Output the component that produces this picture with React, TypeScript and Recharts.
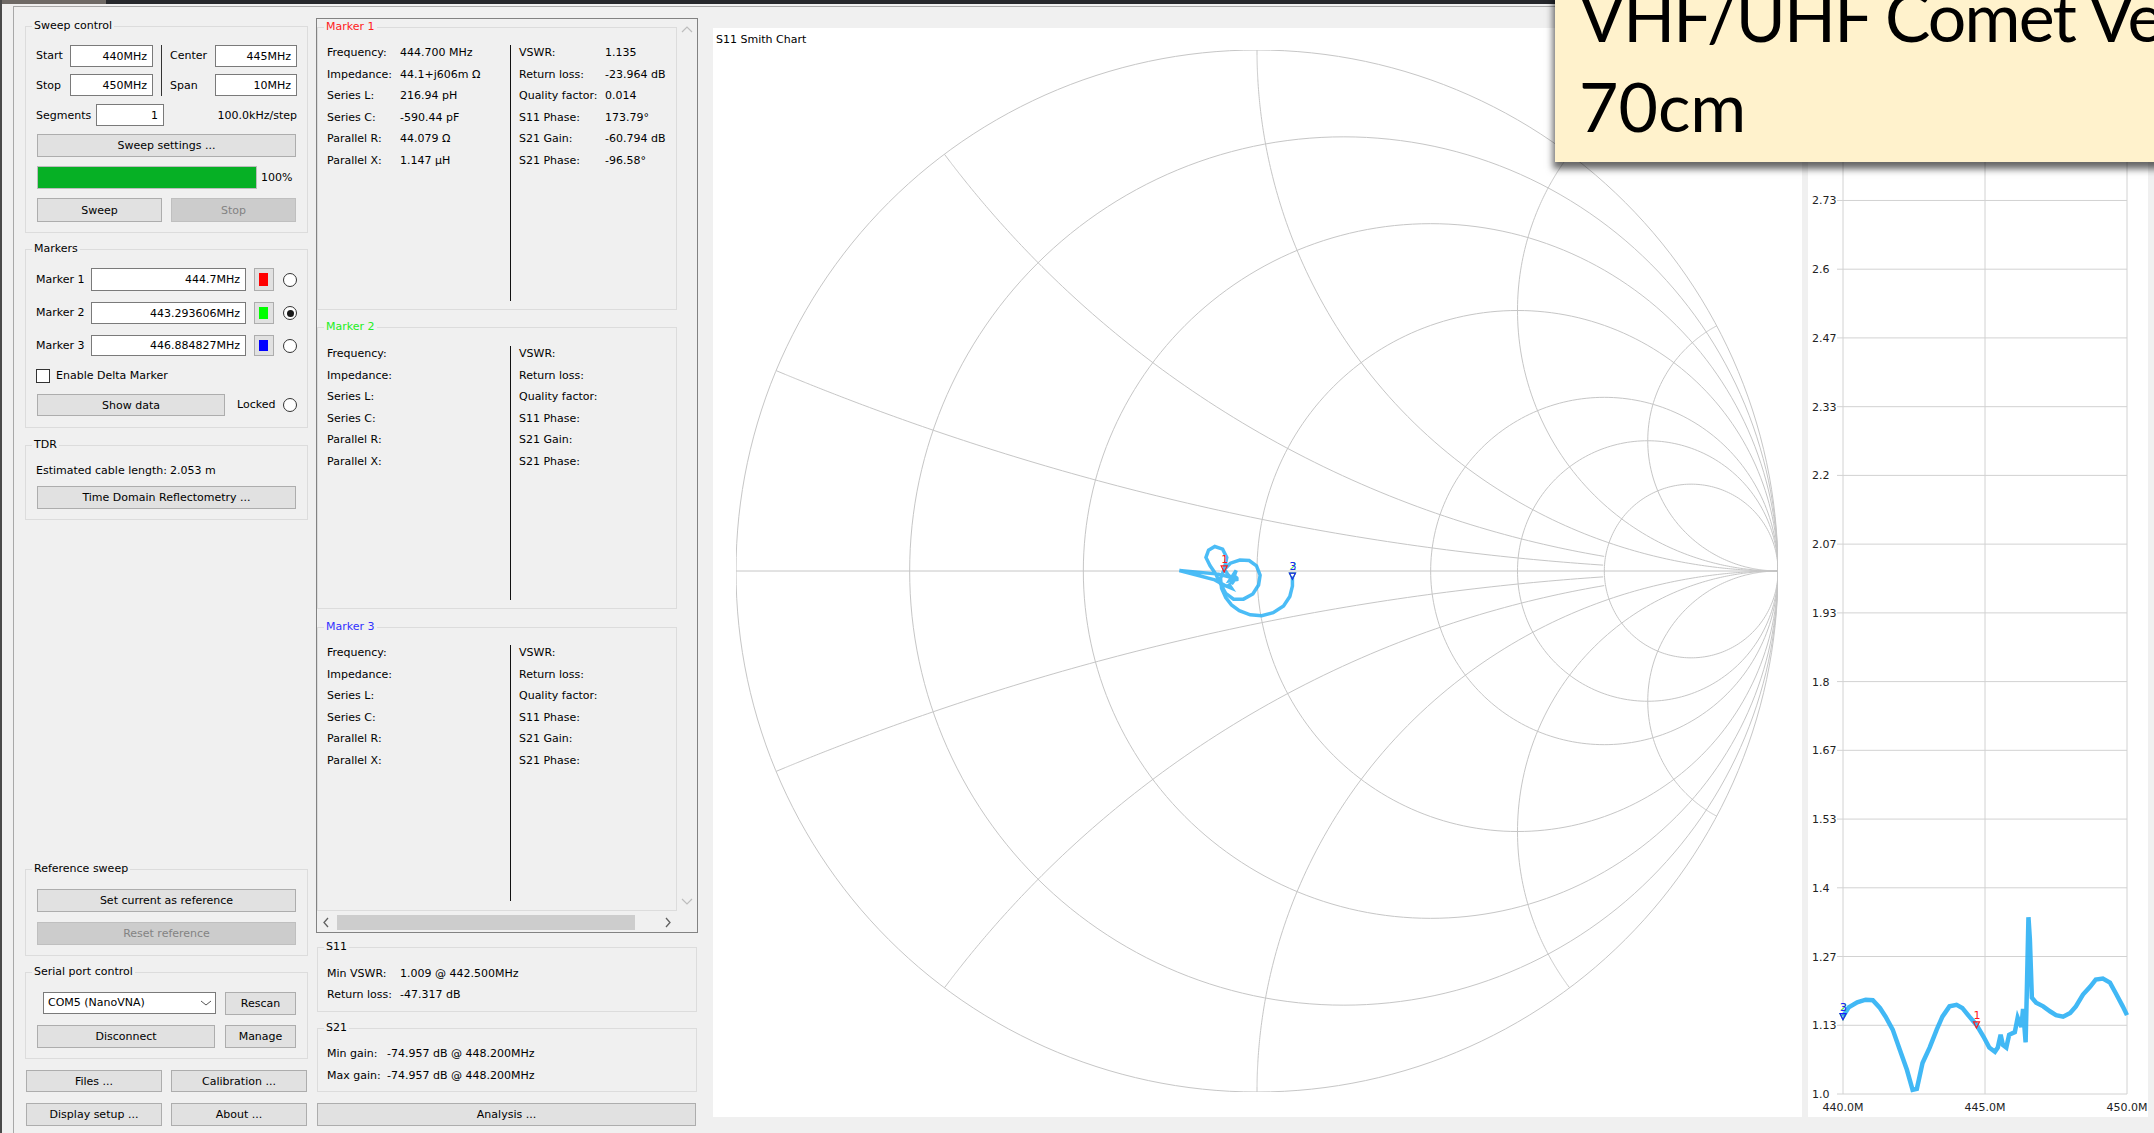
import React from "react";
import {
  ScatterChart,
  Scatter,
  XAxis,
  YAxis,
  LineChart,
  Line,
  CartesianGrid,
  ReferenceDot,
} from "recharts";

const UI_FONT = '"DejaVu Sans", Tahoma, sans-serif';
const GRID = "#c6c6c6";
const TRACE = "#2cb0f4";

// VSWR sweep, 440-450 MHz
const vswrFreqs = [
  440.0, 440.2, 440.5, 440.8, 441.05, 441.3, 441.5, 441.75, 442.0, 442.25,
  442.45, 442.6, 442.8, 443.05, 443.3, 443.5, 443.75, 444.0, 444.2, 444.45,
  444.7, 444.95, 445.15, 445.35, 445.45, 445.55, 445.63, 445.75, 445.85, 446.05,
  446.15, 446.28, 446.34, 446.43, 446.48, 446.53, 446.58, 446.65, 446.8, 447.05,
  447.3, 447.5, 447.75, 448.0, 448.2, 448.45, 448.7, 448.9, 449.15, 449.4,
  449.6, 449.85, 450.0,
];
const vswrValues = [
  1.15, 1.168, 1.178, 1.183, 1.182, 1.167, 1.15, 1.125, 1.086, 1.047,
  1.008, 1.01, 1.06, 1.09, 1.125, 1.15, 1.17, 1.173, 1.167, 1.15,
  1.134, 1.111, 1.09, 1.082, 1.09, 1.115, 1.095, 1.09, 1.115, 1.12,
  1.148, 1.13, 1.165, 1.1, 1.216, 1.343, 1.3, 1.187, 1.177, 1.17,
  1.16, 1.153, 1.15, 1.157, 1.17, 1.193, 1.208, 1.222, 1.224, 1.216,
  1.196, 1.17, 1.153,
];
const vswrTicks = [
  1, 1.1333, 1.2667, 1.4, 1.5333, 1.6667, 1.8, 1.9333, 2.0667, 2.2, 2.3333,
  2.4667, 2.6, 2.7333, 2.8667, 3,
];
const vswrTickLabels = [
  "1.0", "1.13", "1.27", "1.4", "1.53", "1.67", "1.8", "1.93", "2.07", "2.2",
  "2.33", "2.47", "2.6", "2.73", "2.87", "3.0",
];
const freqTicks = [440, 445, 450];
const freqTickLabels = ["440.0M", "445.0M", "450.0M"];

// S11 trace (reflection coefficient)
const s11Re = [
  0.068, 0.068, 0.063, 0.051, 0.031, 0.009, -0.013, -0.034, -0.049, -0.06,
  -0.068, -0.07, -0.063, -0.051, -0.033, -0.015, -0.001, 0.006, 0.003, -0.008,
  -0.026, -0.045, -0.06, -0.07, -0.079, -0.09, -0.098, -0.093, -0.081, -0.066,
  -0.058, -0.061, -0.063, -0.055, -0.045, -0.038, -0.049, -0.04, -0.053, -0.036,
  -0.074, -0.149, -0.081, -0.063, -0.049, -0.055,
];
const s11Im = [
  -0.01, -0.029, -0.049, -0.067, -0.08, -0.086, -0.084, -0.076, -0.065, -0.051,
  -0.033, -0.014, 0.003, 0.015, 0.021, 0.02, 0.01, -0.008, -0.027, -0.044,
  -0.054, -0.054, -0.043, -0.025, -0.006, 0.01, 0.026, 0.04, 0.047, 0.042,
  0.026, 0.012, 0.004, -0.008, -0.017, -0.01, -0.025, 0.001, -0.019, -0.016,
  -0.006, 0.001, -0.017, -0.027, -0.033, -0.024,
];

// markers: label, colour, frequency / vswr, gamma
const markerLabels = ["2", "3", "1"];
const markerColors = ["#22dd22", "#1f1fff", "#ff1a1a"];
const markerFreqs = [440, 440, 444.7];
const markerVswr = [1.15, 1.15, 1.134];
const markerRe = [0.068, 0.068, -0.063];
const markerIm = [-0.01, -0.01, 0.004];

// Smith chart grid
const resistanceCircles = [0, 0.2, 0.5, 1, 2, 3, 5];
const reactanceArcs = [0.2, 0.5, 1, 2, 4];
const shortArcs = [0.2, 0.5];

function circlePoints(cx: number, rad: number) {
  const pts = [];
  for (let k = 0; k <= 240; k++) {
    const a = (k / 240) * Math.PI * 2;
    pts.push({ x: cx + rad * Math.cos(a), y: rad * Math.sin(a) });
  }
  return pts;
}

function reactancePoints(xv: number, maxRe: number) {
  const pts = [];
  for (let k = 0; k <= 300; k++) {
    const r = k === 0 ? 0 : Math.pow(10, -2 + (k / 300) * 5.5);
    const den = (r + 1) * (r + 1) + xv * xv;
    const re = (r * r - 1 + xv * xv) / den;
    if (re <= maxRe) pts.push({ x: re, y: (2 * xv) / den });
  }
  return pts;
}

const smithGrid = [
  ...resistanceCircles.map((r) => ({
    key: `r${r}`,
    pts: circlePoints(r / (r + 1), 1 / (r + 1)),
  })),
  ...reactanceArcs.flatMap((xv) =>
    [xv, -xv].map((s) => ({
      key: `x${s}`,
      pts: reactancePoints(s, shortArcs.includes(xv) ? 2 / 3 : 1),
    }))
  ),
  { key: "axis", pts: [{ x: -1, y: 0 }, { x: 1, y: 0 }] },
];

const s11Data = s11Re.map((re, i) => ({ x: re, y: s11Im[i] }));
const vswrData = vswrFreqs.map((f, i) => ({ freq: f, vswr: vswrValues[i] }));

const noDot = () => <g />;

function MarkerGlyph({ cx, cy, color, label }: any) {
  return (
    <g>
      <path
        d={`M${cx},${cy + 3} L${cx - 3},${cy - 3} L${cx + 3},${cy - 3} Z`}
        fill="none"
        stroke={color}
        strokeWidth={1.2}
      />
      <text x={cx - 3} y={cy - 6} fontSize={11} fontFamily={UI_FONT} fill={color}>
        {label}
      </text>
    </g>
  );
}

function VswrYTick(props: any) {
  const { y, payload } = props;
  const i = vswrTicks.findIndex((t) => Math.abs(t - payload.value) < 1e-6);
  return (
    <text x={4} y={y} dy={4} fontSize={11} fontFamily={UI_FONT} fill="#222">
      {vswrTickLabels[i]}
    </text>
  );
}

function FreqTick(props: any) {
  const { x, payload } = props;
  const i = freqTicks.indexOf(payload.value);
  return (
    <text x={x} y={1083} textAnchor="middle" fontSize={11} fontFamily={UI_FONT} fill="#222">
      {freqTickLabels[i]}
    </text>
  );
}

// ---- small widget helpers
const Txt = ({ x, y, children, color = "#000", align = "left", w = 400 }: any) => {
  const style: React.CSSProperties = {
    position: "absolute",
    top: y - 8,
    height: 16,
    lineHeight: "16px",
    fontSize: 11,
    color,
    fontFamily: UI_FONT,
    whiteSpace: "nowrap",
  };
  if (align === "right") {
    style.left = x - w;
    style.width = w;
    style.textAlign = "right";
  } else style.left = x;
  return <div style={style}>{children}</div>;
};

const Rect = ({ x1, y1, x2, y2, bg = "transparent", border, style }: any) => (
  <div
    style={{
      position: "absolute",
      left: x1,
      top: y1,
      width: x2 - x1,
      height: y2 - y1,
      background: bg,
      border,
      boxSizing: "border-box",
      ...style,
    }}
  />
);

const Btn = ({ x1, y1, x2, y2, label, disabled = false }: any) => (
  <div
    style={{
      position: "absolute",
      left: x1,
      top: y1,
      width: x2 - x1,
      height: y2 - y1,
      boxSizing: "border-box",
      background: disabled ? "#cccccc" : "#e1e1e1",
      border: `1px solid ${disabled ? "#bfbfbf" : "#adadad"}`,
      color: disabled ? "#838383" : "#000",
      fontSize: 11,
      fontFamily: UI_FONT,
      display: "flex",
      alignItems: "center",
      justifyContent: "center",
      whiteSpace: "nowrap",
    }}
  >
    {label}
  </div>
);

const Field = ({ x1, y1, x2, y2, value }: any) => (
  <div
    style={{
      position: "absolute",
      left: x1,
      top: y1,
      width: x2 - x1,
      height: y2 - y1,
      boxSizing: "border-box",
      background: "#fff",
      border: "1px solid #7a7a7a",
      fontSize: 11,
      fontFamily: UI_FONT,
      display: "flex",
      alignItems: "center",
      justifyContent: "flex-end",
      paddingRight: 5,
      whiteSpace: "nowrap",
    }}
  >
    {value}
  </div>
);

const Group = ({ x1, y1, x2, y2, title, color = "#000" }: any) => (
  <>
    <Rect x1={x1} y1={y1} x2={x2} y2={y2} border="1px solid #dcdcdc" />
    <div
      style={{
        position: "absolute",
        left: x1 + 7,
        top: y1 - 8,
        height: 16,
        lineHeight: "16px",
        padding: "0 2px",
        background: "#f0f0f0",
        fontSize: 11,
        fontFamily: UI_FONT,
        color,
        whiteSpace: "nowrap",
      }}
    >
      {title}
    </div>
  </>
);

const Radio = ({ x, y, on = false }: any) => (
  <div
    style={{
      position: "absolute",
      left: x - 7,
      top: y - 7,
      width: 14,
      height: 14,
      borderRadius: "50%",
      border: "1px solid #333",
      background: "#fff",
      boxSizing: "border-box",
    }}
  >
    {on && (
      <div
        style={{
          position: "absolute",
          left: 2.5,
          top: 2.5,
          width: 7,
          height: 7,
          borderRadius: "50%",
          background: "#1a1a1a",
        }}
      />
    )}
  </div>
);

const leftLabels = ["Frequency:", "Impedance:", "Series L:", "Series C:", "Parallel R:", "Parallel X:"];
const rightLabels = ["VSWR:", "Return loss:", "Quality factor:", "S11 Phase:", "S21 Gain:", "S21 Phase:"];
const m1Left = ["444.700 MHz", "44.1+j606m Ω", "216.94 pH", "-590.44 pF", "44.079 Ω", "1.147 µH"];
const m1Right = ["1.135", "-23.964 dB", "0.014", "173.79°", "-60.794 dB", "-96.58°"];

function MarkerInfo({ top, title, color, divTop, divBottom, rowTop, bottom, left, right }: any) {
  return (
    <>
      <Group x1={317} y1={top} x2={677} y2={bottom} title={title} color={color} />
      <Rect x1={510} y1={divTop} x2={511} y2={divBottom} bg="#111" />
      {leftLabels.map((l, i) => (
        <React.Fragment key={l}>
          <Txt x={327} y={rowTop + i * 21.6}>{l}</Txt>
          {left && <Txt x={400} y={rowTop + i * 21.6}>{left[i]}</Txt>}
        </React.Fragment>
      ))}
      {rightLabels.map((l, i) => (
        <React.Fragment key={l}>
          <Txt x={519} y={rowTop + i * 21.6}>{l}</Txt>
          {right && <Txt x={605} y={rowTop + i * 21.6}>{right[i]}</Txt>}
        </React.Fragment>
      ))}
    </>
  );
}

const markerRows = [
  { label: "Marker 1", value: "444.7MHz", y1: 268, y2: 291, on: false },
  { label: "Marker 2", value: "443.293606MHz", y1: 302, y2: 324, on: true },
  { label: "Marker 3", value: "446.884827MHz", y1: 335, y2: 356, on: false },
];
const swatchColors = ["#ff0000", "#00ff00", "#0000ff"];

function SmithChart() {
  return (
    <ScatterChart width={1089} height={1089} margin={{ top: 22, right: 24, bottom: 25, left: 23 }}>
      <XAxis type="number" dataKey="x" domain={[-1, 1]} allowDataOverflow hide />
      <YAxis type="number" dataKey="y" domain={[-1, 1]} allowDataOverflow hide />
      {smithGrid.map((g) => (
        <Scatter
          key={g.key}
          data={g.pts}
          fill={GRID}
          line={{ stroke: GRID, strokeWidth: 1 }}
          shape={noDot}
          isAnimationActive={false}
        />
      ))}
      <Scatter
        data={s11Data}
        fill={TRACE}
        line={{ stroke: TRACE, strokeWidth: 3.5, strokeOpacity: 0.85 }}
        shape={noDot}
        isAnimationActive={false}
      />
      {markerLabels.map((lab, i) => (
        <Scatter
          key={`m${i}`}
          data={[{ x: markerRe[i], y: markerIm[i] }]}
          fill={markerColors[i]}
          shape={(p: any) => <MarkerGlyph cx={p.cx} cy={p.cy} color={markerColors[i]} label={lab} />}
          isAnimationActive={false}
        />
      ))}
    </ScatterChart>
  );
}

function VswrChart() {
  return (
    <LineChart width={340} height={1089} data={vswrData} margin={{ top: 35, right: 21, bottom: 0, left: 0 }}>
      <CartesianGrid stroke="#d2d2d2" />
      <XAxis
        dataKey="freq"
        type="number"
        domain={[440, 450]}
        ticks={freqTicks}
        interval={0}
        height={23}
        tickLine={false}
        axisLine={false}
        tick={<FreqTick />}
      />
      <YAxis
        type="number"
        domain={[1, 3]}
        ticks={vswrTicks}
        interval={0}
        width={35}
        axisLine={false}
        tickLine={{ stroke: "#d2d2d2" }}
        tickSize={6}
        tick={<VswrYTick />}
      />
      <Line
        type="linear"
        dataKey="vswr"
        stroke={TRACE}
        strokeWidth={4.5}
        strokeOpacity={0.9}
        dot={false}
        isAnimationActive={false}
      />
      {markerLabels.map((lab, i) => (
        <ReferenceDot
          key={`vm${i}`}
          x={markerFreqs[i]}
          y={markerVswr[i]}
          ifOverflow="visible"
          shape={(p: any) => <MarkerGlyph cx={p.cx} cy={p.cy} color={markerColors[i]} label={lab} />}
        />
      ))}
    </LineChart>
  );
}

export default function App() {
  return (
    <div
      style={{
        position: "absolute",
        left: 0,
        top: 0,
        width: 2154,
        height: 1133,
        overflow: "hidden",
        background: "#f0f0f0",
        fontFamily: UI_FONT,
      }}
    >
      <style>{"body{margin:0}"}</style>
      {/* window chrome */}
      <Rect x1={0} y1={0} x2={2154} y2={4} bg="#26282c" />
      <Rect x1={0} y1={0} x2={106} y2={4} bg="#6f6a66" />
      <Rect x1={0} y1={0} x2={2} y2={1133} bg="#4a4a4a" />
      <Rect x1={13} y1={6} x2={2154} y2={7} bg="#a8a8a8" />
      <Rect x1={13} y1={6} x2={14} y2={1133} bg="#a8a8a8" />

      {/* sweep control */}
      <Group x1={25} y1={26} x2={308} y2={233} title="Sweep control" />
      <Txt x={36} y={56}>Start</Txt>
      <Field x1={70} y1={45} x2={153} y2={67} value="440MHz" />
      <Txt x={36} y={86}>Stop</Txt>
      <Field x1={70} y1={74} x2={153} y2={96} value="450MHz" />
      <Rect x1={161} y1={45} x2={162} y2={96} bg="#333" />
      <Txt x={170} y={56}>Center</Txt>
      <Field x1={215} y1={45} x2={297} y2={67} value="445MHz" />
      <Txt x={170} y={86}>Span</Txt>
      <Field x1={215} y1={74} x2={297} y2={96} value="10MHz" />
      <Txt x={36} y={116}>Segments</Txt>
      <Field x1={96} y1={104} x2={164} y2={126} value="1" />
      <Txt x={297} y={116} align="right">100.0kHz/step</Txt>
      <Btn x1={37} y1={134} x2={296} y2={157} label="Sweep settings ..." />
      <Rect x1={37} y1={166} x2={257} y2={189} bg="#06b025" border="1px solid #bcbcbc" />
      <Txt x={261} y={178}>100%</Txt>
      <Btn x1={37} y1={198} x2={162} y2={222} label="Sweep" />
      <Btn x1={171} y1={198} x2={296} y2={222} label="Stop" disabled />

      {/* markers */}
      <Group x1={25} y1={249} x2={308} y2={428} title="Markers" />
      {markerRows.map((m, i) => (
        <React.Fragment key={m.label}>
          <Txt x={36} y={(m.y1 + m.y2) / 2}>{m.label}</Txt>
          <Field x1={91} y1={m.y1} x2={246} y2={m.y2} value={m.value} />
          <Rect x1={254} y1={m.y1} x2={274} y2={m.y2} bg="#e1e1e1" border="1px solid #adadad" />
          <Rect x1={259} y1={m.y1 + 5} x2={268} y2={m.y2 - 5} bg={swatchColors[i]} />
          <Radio x={290} y={(m.y1 + m.y2) / 2} on={m.on} />
        </React.Fragment>
      ))}
      <Rect x1={36} y1={369} x2={50} y2={383} bg="#fff" border="1px solid #333" />
      <Txt x={56} y={376}>Enable Delta Marker</Txt>
      <Btn x1={37} y1={394} x2={225} y2={416} label="Show data" />
      <Txt x={237} y={405}>Locked</Txt>
      <Radio x={290} y={405} />

      {/* TDR */}
      <Group x1={25} y1={445} x2={308} y2={520} title="TDR" />
      <Txt x={36} y={471}>Estimated cable length:</Txt>
      <Txt x={170} y={471}>2.053 m</Txt>
      <Btn x1={37} y1={486} x2={296} y2={509} label="Time Domain Reflectometry ..." />

      {/* reference sweep */}
      <Group x1={25} y1={869} x2={308} y2={956} title="Reference sweep" />
      <Btn x1={37} y1={889} x2={296} y2={912} label="Set current as reference" />
      <Btn x1={37} y1={922} x2={296} y2={945} label="Reset reference" disabled />

      {/* serial port */}
      <Group x1={25} y1={972} x2={308} y2={1059} title="Serial port control" />
      <Rect x1={43} y1={992} x2={216} y2={1014} bg="#fff" border="1px solid #7a7a7a" />
      <Txt x={48} y={1003}>COM5 (NanoVNA)</Txt>
      <svg style={{ position: "absolute", left: 200, top: 998 }} width={12} height={10}>
        <polyline points="1,3 6,7 11,3" fill="none" stroke="#555" strokeWidth={1} />
      </svg>
      <Btn x1={225} y1={992} x2={296} y2={1015} label="Rescan" />
      <Btn x1={37} y1={1025} x2={215} y2={1048} label="Disconnect" />
      <Btn x1={225} y1={1025} x2={296} y2={1048} label="Manage" />
      <Btn x1={26} y1={1070} x2={162} y2={1092} label="Files ..." />
      <Btn x1={171} y1={1070} x2={307} y2={1092} label="Calibration ..." />
      <Btn x1={26} y1={1103} x2={162} y2={1126} label="Display setup ..." />
      <Btn x1={171} y1={1103} x2={307} y2={1126} label="About ..." />

      {/* marker data scroll area */}
      <Rect x1={316} y1={18} x2={698} y2={933} border="1px solid #828282" />
      <MarkerInfo top={27} bottom={310} title="Marker 1" color="#ff2020" divTop={45} divBottom={301} rowTop={53} left={m1Left} right={m1Right} />
      <MarkerInfo top={327} bottom={609} title="Marker 2" color="#22ee22" divTop={346} divBottom={600} rowTop={354} />
      <MarkerInfo top={627} bottom={911} title="Marker 3" color="#3030ff" divTop={645} divBottom={901} rowTop={653} />
      <Rect x1={317} y1={914} x2={677} y2={932} bg="#f0f0f0" />
      <Rect x1={337} y1={915} x2={635} y2={930} bg="#cdcdcd" />
      <svg style={{ position: "absolute", left: 322, top: 917 }} width={8} height={11}>
        <polyline points="6,1 2,5.5 6,10" fill="none" stroke="#606060" strokeWidth={1.3} />
      </svg>
      <svg style={{ position: "absolute", left: 664, top: 917 }} width={8} height={11}>
        <polyline points="2,1 6,5.5 2,10" fill="none" stroke="#606060" strokeWidth={1.3} />
      </svg>
      <svg style={{ position: "absolute", left: 681, top: 26 }} width={12} height={8}>
        <polyline points="1,6 6,1 11,6" fill="none" stroke="#bdbdbd" strokeWidth={1.2} />
      </svg>
      <svg style={{ position: "absolute", left: 681, top: 898 }} width={12} height={8}>
        <polyline points="1,1 6,6 11,1" fill="none" stroke="#bdbdbd" strokeWidth={1.2} />
      </svg>

      {/* S11 / S21 summaries */}
      <Group x1={317} y1={947} x2={697} y2={1012} title="S11" />
      <Txt x={327} y={974}>Min VSWR:</Txt>
      <Txt x={400} y={974}>1.009 @ 442.500MHz</Txt>
      <Txt x={327} y={995}>Return loss:</Txt>
      <Txt x={400} y={995}>-47.317 dB</Txt>
      <Group x1={317} y1={1028} x2={697} y2={1092} title="S21" />
      <Txt x={327} y={1054}>Min gain:</Txt>
      <Txt x={387} y={1054}>-74.957 dB @ 448.200MHz</Txt>
      <Txt x={327} y={1076}>Max gain:</Txt>
      <Txt x={387} y={1076}>-74.957 dB @ 448.200MHz</Txt>
      <Btn x1={317} y1={1103} x2={696} y2={1126} label="Analysis ..." />

      {/* Smith chart panel */}
      <div style={{ position: "absolute", left: 713, top: 28, width: 1089, height: 1089, background: "#fff" }}>
        <SmithChart />
        <div style={{ position: "absolute", left: 3, top: 5, fontSize: 11, fontFamily: UI_FONT, color: "#000", whiteSpace: "nowrap" }}>
          S11 Smith Chart
        </div>
      </div>

      {/* VSWR panel */}
      <div style={{ position: "absolute", left: 1808, top: 28, width: 340, height: 1089, background: "#fff" }}>
        <VswrChart />
      </div>

      {/* sticky note */}
      <div
        style={{
          position: "absolute",
          left: 1555,
          top: -10,
          width: 640,
          height: 172,
          background: "#fff2cc",
          boxShadow: "-2px 7px 7px rgba(0,0,0,0.6)",
        }}
      >
        <svg width={640} height={172} style={{ position: "absolute", left: 0, top: 0 }}>
          <text x={24} y={52} fontSize={68} letterSpacing={-1.8} fontFamily="Lato, 'Open Sans', sans-serif" fill="#000">
            VHF/UHF Comet Ve
          </text>
          <text x={24} y={142} fontSize={68} fontFamily="Lato, 'Open Sans', sans-serif" fill="#000">
            70cm
          </text>
        </svg>
      </div>
    </div>
  );
}
